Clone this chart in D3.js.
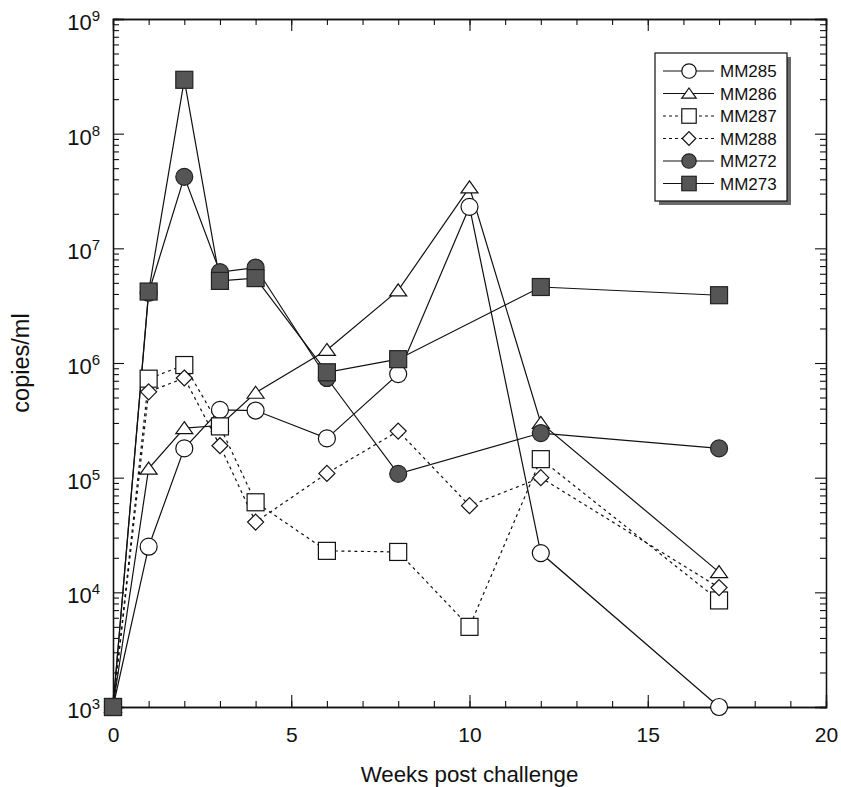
<!DOCTYPE html>
<html>
<head>
<meta charset="utf-8">
<script src="https://cdn.jsdelivr.net/npm/d3@7"></script>
<style>
  body { margin: 0; background: #fff; }
  text { font-family: "Liberation Sans", Arial, Helvetica, sans-serif; fill: #111; }
</style>
</head>
<body>
<div id="chart"></div>
<script>
// weeks sampled
let weeksA = [0, 1, 2, 3, 4, 6, 8, 10, 12, 17];
let weeksB = [0, 1, 2, 3, 4, 6, 8, 12, 17];

// copies/ml
let mm285 = [1e3, 2.5e4, 1.8e5, 3.9e5, 3.85e5, 2.2e5, 8.0e5, 2.3e7, 2.2e4, 1e3];
let mm286 = [1e3, 1.2e5, 2.7e5, 2.85e5, 5.5e5, 1.3e6, 4.3e6, 3.4e7, 3.0e5, 1.5e4];
let mm287 = [1e3, 7.3e5, 9.6e5, 2.8e5, 6.1e4, 2.3e4, 2.25e4, 5.0e3, 1.45e5, 8.5e3];
let mm288 = [1e3, 5.6e5, 7.4e5, 1.9e5, 4.1e4, 1.09e5, 2.55e5, 5.7e4, 1.0e5, 1.1e4];
let mm272 = [1e3, 4.1e6, 4.2e7, 6.2e6, 6.8e6, 7.4e5, 1.08e5, 2.45e5, 1.8e5];
let mm273 = [1e3, 4.2e6, 2.95e8, 5.2e6, 5.5e6, 8.3e5, 1.08e6, 4.6e6, 3.9e6];

let xTicks = [0, 5, 10, 15, 20];
let yDecades = [3, 4, 5, 6, 7, 8, 9];

let series = [
    {name: "MM285", weeks: weeksA, values: mm285, symbol: "circle", filled: false, dotted: false},
    {name: "MM286", weeks: weeksA, values: mm286, symbol: "triangle", filled: false, dotted: false},
    {name: "MM287", weeks: weeksA, values: mm287, symbol: "square", filled: false, dotted: true},
    {name: "MM288", weeks: weeksA, values: mm288, symbol: "diamond", filled: false, dotted: true},
    {name: "MM272", weeks: weeksB, values: mm272, symbol: "circle", filled: true, dotted: false},
    {name: "MM273", weeks: weeksB, values: mm273, symbol: "square", filled: true, dotted: false}
];

let width = 841, height = 787;
let plotL = 113, plotR = 826, plotT = 19, plotB = 707;

let svg = d3.select("#chart").append("svg")
    .attr("width", width)
    .attr("height", height);

let x = d3.scaleLinear().domain([0, 20]).range([plotL, plotR]);
let y = d3.scaleLog().domain([1e3, 1e9]).range([plotB, plotT]);

// minor values
let xMinor = d3.range(0, 21);
let yMinor = [];
for (let e = 3; e < 9; e++) {
    for (let m = 2; m <= 9; m++) yMinor.push(m * Math.pow(10, e));
}
let yMajor = yDecades.map(e => Math.pow(10, e));

function styleAxis(g) {
    g.select(".domain").attr("stroke", "#111").attr("stroke-width", 1.3);
    g.selectAll(".tick line").attr("stroke", "#111").attr("stroke-width", 1.1);
}

// bottom axis
svg.append("g").attr("transform", "translate(0," + plotB + ")")
    .call(d3.axisBottom(x).tickValues(xMinor).tickSize(-6).tickFormat(""))
    .call(styleAxis);
svg.append("g").attr("transform", "translate(0," + plotB + ")")
    .call(d3.axisBottom(x).tickValues(xTicks).tickSize(-12).tickPadding(20).tickFormat(d3.format("d")))
    .call(styleAxis)
    .call(g => g.selectAll(".tick text").attr("font-size", 21).attr("font-family", "Liberation Sans, Arial, sans-serif").attr("fill", "#111"));

// top axis (mirror, no labels)
svg.append("g").attr("transform", "translate(0," + plotT + ")")
    .call(d3.axisTop(x).tickValues(xMinor).tickSize(-6).tickFormat(""))
    .call(styleAxis);
svg.append("g").attr("transform", "translate(0," + plotT + ")")
    .call(d3.axisTop(x).tickValues(xTicks).tickSize(-12).tickFormat(""))
    .call(styleAxis);

// left axis
svg.append("g").attr("transform", "translate(" + plotL + ",0)")
    .call(d3.axisLeft(y).tickValues(yMinor).tickSize(-6).tickFormat(""))
    .call(styleAxis);
svg.append("g").attr("transform", "translate(" + plotL + ",0)")
    .call(d3.axisLeft(y).tickValues(yMajor).tickSize(-11).tickFormat(""))
    .call(styleAxis);

// right axis
svg.append("g").attr("transform", "translate(" + plotR + ",0)")
    .call(d3.axisRight(y).tickValues(yMinor).tickSize(-6).tickFormat(""))
    .call(styleAxis);
svg.append("g").attr("transform", "translate(" + plotR + ",0)")
    .call(d3.axisRight(y).tickValues(yMajor).tickSize(-11).tickFormat(""))
    .call(styleAxis);

// y tick labels as 10 with superscript exponent
let ylab = svg.selectAll(".ylab")
    .data(yDecades)
    .join("text")
    .attr("class", "ylab")
    .attr("x", plotL - 13)
    .attr("y", d => y(Math.pow(10, d)) + 11)
    .attr("text-anchor", "end")
    .attr("font-size", 22)
    .text("10");
ylab.append("tspan")
    .attr("dy", -9)
    .attr("font-size", 15)
    .text(d => d);

// axis titles
svg.append("text")
    .attr("x", (plotL + plotR) / 2)
    .attr("y", 782)
    .attr("text-anchor", "middle")
    .attr("font-size", 22.3)
    .text("Weeks post challenge");

svg.append("text")
    .attr("transform", "translate(29," + ((plotT + plotB) / 2) + ") rotate(-90)")
    .attr("text-anchor", "middle")
    .attr("font-size", 23.5)
    .text("copies/ml");

// marker drawing
function drawMarker(g, symbol, filled, s) {
    let fill = filled ? "#555" : "#fff";
    let stroke = filled ? "#222" : "#111";
    if (symbol === "circle") {
        g.append("circle").attr("r", 8.5 * s);
    } else if (symbol === "square") {
        g.append("rect").attr("x", -8.5 * s).attr("y", -8.5 * s)
            .attr("width", 17 * s).attr("height", 17 * s);
    } else if (symbol === "triangle") {
        g.append("path").attr("d", "M0," + (-6.5 * s) + "L" + (8.5 * s) + "," + (5.5 * s) + "L" + (-8.5 * s) + "," + (5.5 * s) + "Z");
    } else if (symbol === "diamond") {
        g.append("path").attr("d", "M0," + (-8 * s) + "L" + (8 * s) + ",0L0," + (8 * s) + "L" + (-8 * s) + ",0Z");
    }
    g.selectAll("*").attr("fill", fill).attr("stroke", stroke).attr("stroke-width", 1.2);
}

let line = d3.line()
    .x(d => x(d.w))
    .y(d => y(d.v));

function points(s) {
    return s.weeks.map((w, i) => ({w: w, v: s.values[i]}));
}

// lines first
svg.selectAll(".series-line")
    .data(series)
    .join("path")
    .attr("class", "series-line")
    .attr("d", d => line(points(d)))
    .attr("fill", "none")
    .attr("stroke", "#111")
    .attr("stroke-width", 1.2)
    .attr("stroke-dasharray", d => d.dotted ? "3,3.5" : null);

// then markers
series.forEach(s => {
    points(s).forEach(p => {
        let g = svg.append("g").attr("transform", "translate(" + x(p.w) + "," + y(p.v) + ")");
        drawMarker(g, s.symbol, s.filled, 1);
    });
});

// legend
let lx = 655, ly = 53, lw = 132, lh = 148;
svg.append("rect")
    .attr("x", lx + 4).attr("y", ly + 4)
    .attr("width", lw).attr("height", lh)
    .attr("fill", "#6a6a6a");
svg.append("rect")
    .attr("x", lx).attr("y", ly)
    .attr("width", lw).attr("height", lh)
    .attr("fill", "#fff")
    .attr("stroke", "#111")
    .attr("stroke-width", 1.2);

let legend = svg.selectAll(".legend-item")
    .data(series)
    .join("g")
    .attr("class", "legend-item")
    .attr("transform", (d, i) => "translate(0," + (71 + i * 22.5) + ")");
legend.append("line")
    .attr("x1", 663).attr("x2", 714)
    .attr("stroke", "#111")
    .attr("stroke-width", 1.2)
    .attr("stroke-dasharray", d => d.dotted ? "3,3" : null);
legend.each(function(d) {
    let g = d3.select(this).append("g").attr("transform", "translate(689,0)");
    drawMarker(g, d.symbol, d.filled, 0.85);
});
legend.append("text")
    .attr("x", 720)
    .attr("y", 6)
    .attr("font-size", 17)
    .text(d => d.name);
</script>
</body>
</html>
